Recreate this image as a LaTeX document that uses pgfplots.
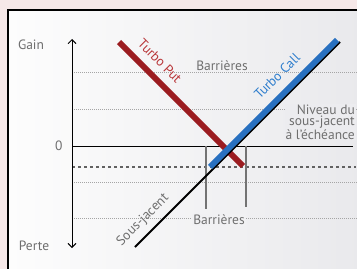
\documentclass[border=0pt]{standalone}
\usepackage{pgfplots}
\pgfplotsset{compat=1.18}
\usepackage{fontspec}
\setmainfont{PT Sans}
\usetikzlibrary{arrows.meta}
\definecolor{bgpink}{RGB}{246,232,232}
\definecolor{txtgray}{RGB}{110,110,110}
\definecolor{putred}{RGB}{155,28,32}
\definecolor{putlabel}{RGB}{185,55,58}
\definecolor{callblue}{RGB}{40,112,192}
\definecolor{calllabel}{RGB}{45,125,205}
\definecolor{gridgray}{RGB}{165,165,165}
\definecolor{panelL}{RGB}{253,253,253}
\definecolor{panelR}{RGB}{233,233,236}
\definecolor{panelM}{RGB}{241,241,243}
\definecolor{panelMR}{RGB}{236,236,239}
\tikzset{lbl/.style={font=\fontsize{13.5bp}{11.5bp}\selectfont}}
\begin{document}
\begin{tikzpicture}
\begin{axis}[
  width=357bp, height=269bp, scale only axis,
  xmin=0, xmax=357, ymin=0, ymax=269, y dir=reverse,
  axis lines=none, clip=true,
]
\fill[bgpink] (axis cs:0,0) rectangle (axis cs:357,269);
\shade[left color=panelL, right color=panelR] (axis cs:8,10) rectangle (axis cs:362,274);
\draw[black, line width=1.2bp] (axis cs:8,274) -- (axis cs:8,10) -- (axis cs:362,10);
% grid lines
\addplot[gridgray, line width=0.9bp, dash pattern=on 1bp off 1bp] coordinates {(72,72) (357,72)};
\addplot[gridgray, line width=0.9bp, dash pattern=on 1bp off 1bp] coordinates {(72,109) (357,109)};
\addplot[gridgray, line width=0.9bp, dash pattern=on 1bp off 1bp] coordinates {(72,182) (357,182)};
\addplot[gridgray, line width=0.9bp, dash pattern=on 1bp off 1bp] coordinates {(72,218) (357,218)};
% zero and dashed level
\addplot[black, line width=1bp] coordinates {(72,146) (353,146)};
\addplot[black!62, line width=1.4bp, dash pattern=on 3bp off 3bp] coordinates {(72,167) (356,167)};
% barriers
\addplot[black!55, line width=1.5bp] coordinates {(206,146) (206,209)};
\addplot[black!55, line width=1.5bp] coordinates {(246,146) (246,207)};
% y axis
\addplot[black, line width=0.9bp, {Straight Barb[length=4bp,width=8bp]}-{Straight Barb[length=4bp,width=8bp]}] coordinates {(72,39) (72,248)};
% lines
\addplot[putred, line width=6bp] coordinates {(119,42) (243,166)};
\addplot[black, line width=2bp] coordinates {(135,247) (340,42)};
\addplot[callblue, line width=6bp] coordinates {(210,167) (337,40)};
% labels
\node[lbl, txtgray] at (axis cs:31,45) {Gain};
\node[lbl, txtgray, anchor=east] at (axis cs:66,146) {0};
\node[lbl, txtgray] at (axis cs:34,246) {Perte};
\node[lbl, rotate=-45, text=putlabel] at (axis cs:160,61) {Turbo Put};
\node[lbl, rotate=45, text=calllabel] at (axis cs:277,76) {Turbo Call};
\node[lbl, rotate=45, txtgray] at (axis cs:143,220) {Sous-jacent};
\node[lbl, txtgray, fill=panelM, inner sep=1bp] at (axis cs:222,66) {Barrières};
\node[lbl, txtgray, fill=panelM, inner sep=1bp] at (axis cs:219,220) {Barrières};
\node[lbl, txtgray, fill=panelMR, inner sep=1bp, align=right, anchor=east] at (axis cs:356,122) {Niveau du\\sous-jacent\\à l'échéance};
\end{axis}
\end{tikzpicture}
\end{document}
